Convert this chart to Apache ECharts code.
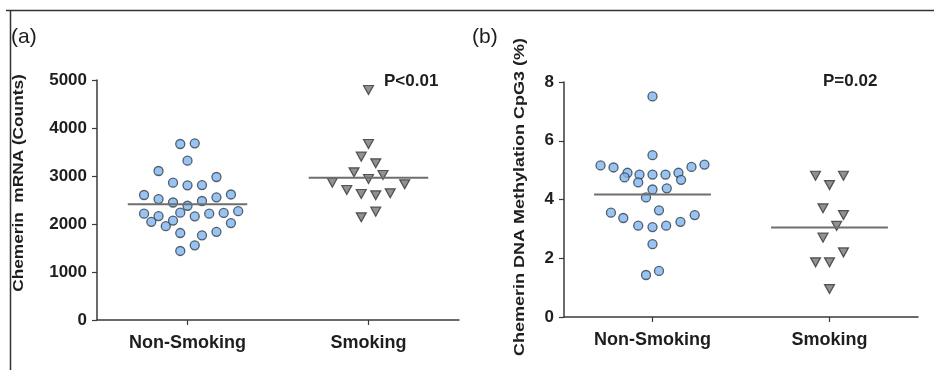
<!DOCTYPE html>
<html>
<head>
<meta charset="utf-8">
<script src="https://cdn.jsdelivr.net/npm/echarts@6/dist/echarts.min.js"></script>
<style>
  html, body { margin: 0; padding: 0; background: #fff; }
  #chart { width: 934px; height: 370px; }
</style>
</head>
<body>
<div id="chart"></div>
<script>
// categories on the x axis of both panels
const categories = ["Non-Smoking", "Smoking"]

// (a) chemerin mRNA counts, slot = horizontal swarm position
const mrnaNonSmoking = [3667, 3681, 3319, 3104, 2861, 2805, 2810, 2979, 2604, 2520, 2448, 2380, 2479, 2556, 2615,
  2215, 2045, 2165, 1955, 2072, 2236, 2160, 2215, 2230, 2267, 2020, 1812, 1765, 1836, 1556, 1438]
const mrnaNonSmokingSlot = [-1, 1, 0, -4, -2, 0, 2, 4, -6, -4, -2, 0, 2, 4, 6,
  -6, -5, -4, -3, -2, -1, 1, 3, 5, 7, 6, -1, 2, 4, 1, -1]
const mrnaSmoking = [4792, 3667, 3403, 3264, 3076, 2938, 3021, 2861, 2826, 2708, 2625, 2597, 2639, 2257, 2139]
const mrnaSmokingSlot = [0, 0, -1, 1, -2, 0, 2, -5, 5, -3, -1, 1, 3, 1, -1]
const mrnaMeans = [2410, 2965]
const mrnaTicks = [0, 1000, 2000, 3000, 4000, 5000]

// (b) chemerin DNA methylation CpG3 (%)
const methNonSmoking = [7.51, 5.51, 5.16, 5.09, 4.91, 4.75, 4.85, 4.58, 4.85, 4.85, 4.91, 4.67, 5.11, 5.19,
  4.34, 4.38, 4.07, 3.55, 3.37, 3.63, 3.47, 3.24, 3.11, 3.06, 3.11, 2.48, 1.43, 1.57]
const methNonSmokingSlot = [0, 0, -8, -6, -3.85, -4.3, -2, -2.2, 0, 2, 4, 4.4, 6, 8,
  0, 2.2, -1, -6.4, -4.5, 1, 6.5, 4.3, -2.2, 0, 2.1, 0, -1, 1]
const methSmoking = [4.81, 4.81, 4.49, 3.70, 3.47, 3.10, 2.70, 2.20, 1.86, 1.86, 0.95]
const methSmokingSlot = [-2.15, 2.15, 0, -1, 2.15, 1.1, -1, 2.15, -2.15, 0, 0]
const methMeans = [4.17, 3.05]
const methTicks = [0, 2, 4, 6, 8]

const pLabels = ["P<0.01", "P=0.02"]

const FONT = "Liberation Sans, Arial, sans-serif"
const AXIS_COLOR = "#3a3a3a"
const TEXT_COLOR = "#1e1e1e"
const HALF = 0.33

const chart = echarts.init(document.getElementById("chart"))

function swarm(values, slots, catIdx, step) {
    return values.map((v, i) => [catIdx + 0.5 + slots[i] * step, v])
}

function meanLine(mean, catIdx) {
    return [[catIdx + 0.5 - HALF, mean], [catIdx + 0.5 + HALF, mean]]
}

function xAxisFor(gridIndex) {
    return {
        type: "value",
        gridIndex,
        min: 0,
        max: 2,
        splitLine: { show: false },
        axisLine: { lineStyle: { color: AXIS_COLOR, width: 1.5 } },
        axisTick: { customValues: [0.5, 1.5], length: 5, lineStyle: { color: AXIS_COLOR, width: 1.2 } },
        axisLabel: {
            customValues: [0.5, 1.5],
            formatter: v => categories[Math.floor(v)],
            margin: 14,
            fontFamily: FONT,
            fontWeight: "bold",
            fontSize: 18,
            color: TEXT_COLOR
        }
    }
}

function yAxisFor(gridIndex, ticks) {
    return {
        type: "value",
        gridIndex,
        min: ticks[0],
        max: ticks[ticks.length - 1],
        interval: ticks[1] - ticks[0],
        splitLine: { show: false },
        axisLine: { show: true, lineStyle: { color: AXIS_COLOR, width: 1.5 } },
        axisTick: { show: true, length: 5, lineStyle: { color: AXIS_COLOR, width: 1.2 } },
        axisLabel: {
            margin: 10,
            formatter: v => String(v),
            fontFamily: FONT,
            fontWeight: "bold",
            fontSize: 17,
            color: TEXT_COLOR
        }
    }
}

const circleStyle = { color: "#7fb4ec", borderColor: "#2f3d4c", borderWidth: 1.3 }
const triStyle = { color: "#767676", borderColor: "#333", borderWidth: 1.2 }
const lineStyle = { color: "#6e6e6e", width: 2 }

function dots(data, idx, symbol) {
    const tri = symbol === "triangle"
    return {
        type: "scatter",
        xAxisIndex: idx,
        yAxisIndex: idx,
        symbol,
        symbolSize: tri ? [10, 9] : 9,
        symbolRotate: tri ? 180 : 0,
        itemStyle: tri ? triStyle : circleStyle,
        data,
        z: 3,
        silent: true
    }
}

function mean(data, idx) {
    return {
        type: "line",
        xAxisIndex: idx,
        yAxisIndex: idx,
        data,
        symbol: "none",
        lineStyle,
        z: 4,
        silent: true
    }
}

const stepA = 0.04
const stepB = 0.0367

chart.setOption({
    animation: false,
    grid: [
        { left: 97, right: 475, top: 80, height: 240 },
        { left: 564, right: 16, top: 82, height: 235 }
    ],
    xAxis: [xAxisFor(0), xAxisFor(1)],
    yAxis: [yAxisFor(0, mrnaTicks), yAxisFor(1, methTicks)],
    series: [
        dots(swarm(mrnaNonSmoking, mrnaNonSmokingSlot, 0, stepA), 0, "circle"),
        dots(swarm(mrnaSmoking, mrnaSmokingSlot, 1, stepA), 0, "triangle"),
        mean(meanLine(mrnaMeans[0], 0), 0),
        mean(meanLine(mrnaMeans[1], 1), 0),
        dots(swarm(methNonSmoking, methNonSmokingSlot, 0, stepB), 1, "circle"),
        dots(swarm(methSmoking, methSmokingSlot, 1, stepB), 1, "triangle"),
        mean(meanLine(methMeans[0], 0), 1),
        mean(meanLine(methMeans[1], 1), 1)
    ],
    graphic: [
        // figure frame
        { type: "line", shape: { x1: 6, y1: 10.5, x2: 934, y2: 10.5 }, style: { stroke: "#333", lineWidth: 1.5 } },
        { type: "line", shape: { x1: 10.5, y1: 10, x2: 10.5, y2: 370 }, style: { stroke: "#333", lineWidth: 1.5 } },
        // panel letters
        { type: "text", left: 11, top: 27, style: { text: "(a)", font: "21px " + FONT, fill: TEXT_COLOR } },
        { type: "text", left: 472, top: 27, style: { text: "(b)", font: "21px " + FONT, fill: TEXT_COLOR } },
        // axis titles
        {
            type: "text", x: 19, y: 183, rotation: Math.PI / 2, scaleX: 1.15,
            style: { text: "Chemerin  mRNA (Counts)", font: "bold 15px " + FONT, fill: TEXT_COLOR, align: "center", verticalAlign: "middle" }
        },
        {
            type: "text", x: 520, y: 197, rotation: Math.PI / 2, scaleX: 1.2,
            style: { text: "Chemerin DNA Methylation CpG3 (%)", font: "bold 15px " + FONT, fill: TEXT_COLOR, align: "center", verticalAlign: "middle" }
        },
        // p values
        { type: "text", x: 384, y: 81, style: { text: pLabels[0], font: "bold 17px " + FONT, fill: TEXT_COLOR, verticalAlign: "middle" } },
        { type: "text", x: 823, y: 81, style: { text: pLabels[1], font: "bold 17px " + FONT, fill: TEXT_COLOR, verticalAlign: "middle" } }
    ]
})
</script>
</body>
</html>
